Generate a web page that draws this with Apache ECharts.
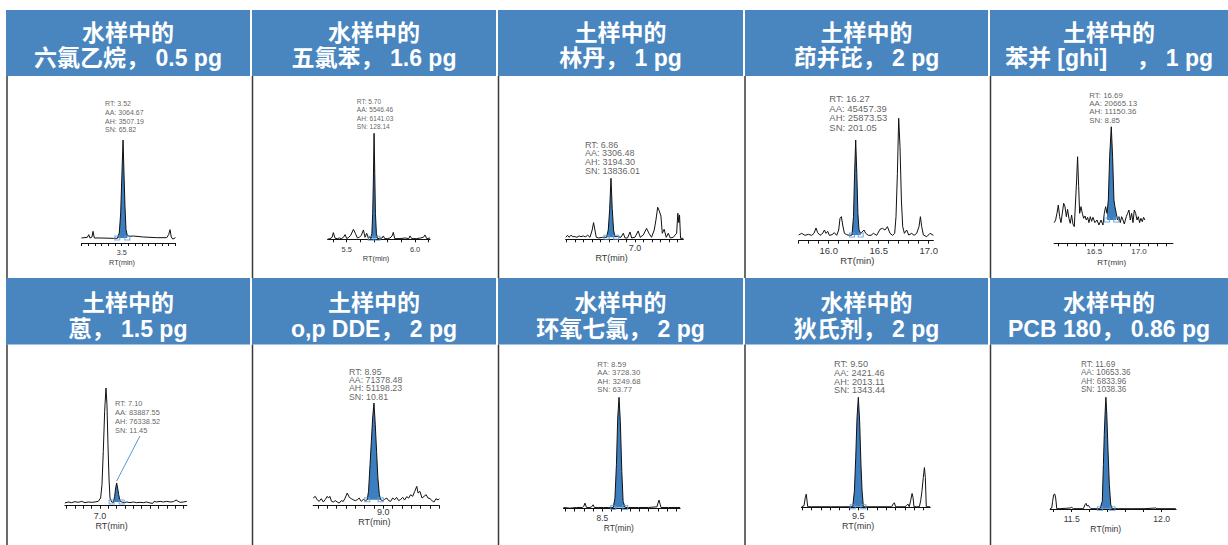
<!DOCTYPE html>
<html>
<head>
<meta charset="utf-8">
<script src="https://cdn.jsdelivr.net/npm/echarts@6/dist/echarts.min.js"></script>
<style>
html,body{margin:0;padding:0;background:#fff;}
#chart{width:1228px;height:545px;}
</style>
</head>
<body>
<div id="chart"></div>
<script>
// ---- Header text of each panel ----
const titleTop = ['水样中的','水样中的','土样中的','土样中的','土样中的','土样中的','土样中的','水样中的','水样中的','水样中的'];
const titleBottom = ['六氯乙烷， 0.5 pg','五氯苯， 1.6 pg','林丹， 1 pg','茚并芘， 2 pg','苯并 [ghi]　 ， 1 pg',
                     '蒽， 1.5 pg','o,p DDE， 2 pg','环氧七氯， 2 pg','狄氏剂， 2 pg','PCB 180， 0.86 pg'];

// ---- Peak report values (RT, area, height, S/N) ----
const rtText = ['3.52','5.70','6.86','16.27','16.69','7.10','8.95','8.59','9.50','11.69'];
const aaText = ['3064.67','5546.46','3306.48','45457.39','20665.13','83887.55','71378.48','3728.30','2421.46','10653.36'];
const ahText = ['3507.19','6141.03','3194.30','25873.53','11150.36','76338.52','51198.23','3249.68','2013.11','6833.96'];
const snText = ['65.82','128.14','13836.01','201.05','8.85','11.45','10.81','63.77','1343.44','1038.36'];

// ---- Chromatogram traces: [retention time (min), intensity] ----
const trace1 = [[2.9,0],[2.987,24],[3.008,119],[3.027,0],[3.057,36],[3.072,239],[3.091,0],[3.176,0],[3.375,-12],[3.434,-12],[3.464,179],[3.485,895],[3.504,2327],[3.52,3507.19],[3.534,2327],[3.549,1134],[3.564,298],[3.584,84],[3.624,60],[3.673,72],[3.822,36],[4.022,12],[4.172,12],[4.201,119],[4.221,298],[4.24,36],[4.261,-36],[4.291,-12],[4.3,24]];
const trace2 = [[5.36,-58],[5.378,-19],[5.393,58],[5.402,332],[5.415,0],[5.432,-19],[5.446,19],[5.461,-19],[5.476,58],[5.488,215],[5.5,-19],[5.515,58],[5.529,176],[5.549,527],[5.563,293],[5.578,19],[5.593,58],[5.607,176],[5.622,488],[5.634,58],[5.646,293],[5.659,-19],[5.668,98],[5.676,-19],[5.684,293],[5.69,1463],[5.695,3413],[5.7,6141.03],[5.705,3803],[5.71,1463],[5.717,293],[5.725,-19],[5.759,19],[5.768,137],[5.778,-19],[5.798,-19],[5.817,19],[5.832,137],[5.841,351],[5.851,-19],[5.89,-19],[5.927,19],[5.954,-19],[5.963,137],[5.976,-19],[6.012,-19],[6.041,19],[6.061,58],[6.073,195],[6.085,-19],[6.11,19]];
const trace3 = [[6.595,0],[6.606,108],[6.614,0],[6.626,108],[6.637,36],[6.649,36],[6.661,0],[6.673,72],[6.684,36],[6.698,72],[6.712,18],[6.723,126],[6.737,0],[6.75,397],[6.758,794],[6.766,397],[6.774,0],[6.789,-36],[6.809,0],[6.834,0],[6.844,397],[6.852,1480],[6.86,3194.3],[6.867,1570],[6.875,397],[6.883,36],[6.899,36],[6.918,0],[6.932,217],[6.942,-36],[6.957,-36],[6.971,289],[6.981,-36],[7.0,0],[7.019,343],[7.031,0],[7.049,126],[7.068,487],[7.082,217],[7.097,0],[7.113,397],[7.123,939],[7.133,1624],[7.142,1444],[7.152,1155],[7.16,217],[7.171,433],[7.183,0],[7.195,217],[7.207,-36],[7.224,0],[7.244,217],[7.251,1300],[7.257,794],[7.261,1210],[7.267,-54],[7.283,-54]];
const trace4 = [[15.7,0],[15.73,454],[15.763,-91],[15.797,182],[15.83,-91],[15.853,454],[15.873,1907],[15.89,636],[15.913,-91],[15.94,454],[15.957,1362],[15.973,454],[15.99,999],[16.007,-91],[16.033,91],[16.057,636],[16.08,-91],[16.1,1362],[16.113,4540],[16.127,4994],[16.14,2724],[16.157,454],[16.18,91],[16.207,-91],[16.233,0],[16.248,4994],[16.259,16798],[16.27,25873.53],[16.281,16798],[16.292,5902],[16.303,1362],[16.32,454],[16.353,1362],[16.37,454],[16.397,-91],[16.423,-91],[16.447,454],[16.48,-91],[16.513,1543],[16.537,1816],[16.563,1362],[16.587,2270],[16.613,454],[16.64,-91],[16.66,454],[16.673,4994],[16.687,16798],[16.7,31780],[16.713,24062],[16.727,9534],[16.74,2270],[16.757,454],[16.78,1362],[16.8,0],[16.83,454],[16.853,-91],[16.88,454],[16.903,2270],[16.917,4994],[16.93,2270],[16.947,0],[16.98,-454],[17.013,454],[17.047,-91]];
const trace5 = [[16.05,-318],[16.067,0],[16.082,796],[16.097,1791],[16.112,398],[16.127,-318],[16.142,796],[16.157,1990],[16.172,1592],[16.187,398],[16.201,1274],[16.216,199],[16.231,-398],[16.246,597],[16.261,-478],[16.276,-796],[16.291,2388],[16.302,4776],[16.313,7562],[16.325,3980],[16.336,796],[16.351,1592],[16.366,796],[16.381,199],[16.396,478],[16.41,0],[16.425,318],[16.44,-318],[16.455,398],[16.47,-159],[16.485,318],[16.507,-318],[16.53,0],[16.552,-597],[16.575,0],[16.597,-597],[16.612,796],[16.627,1592],[16.642,796],[16.657,2388],[16.672,7562],[16.69,11150.36],[16.705,7562],[16.72,2388],[16.731,1592],[16.746,796],[16.761,0],[16.776,398],[16.791,-318],[16.806,398],[16.821,0],[16.836,-478],[16.858,398],[16.873,796],[16.888,1194],[16.903,0],[16.918,796],[16.933,-318],[16.948,1194],[16.963,796],[16.978,0],[16.993,398],[17.007,-318],[17.022,199],[17.037,-199],[17.052,318],[17.067,0]];
const trace6 = [[6.79,-4018],[6.81,0],[6.83,-2678],[6.85,1339],[6.87,-1339],[6.89,2678],[6.91,-2678],[6.93,0],[6.95,-1339],[6.97,0],[6.99,2678],[7.004,16068],[7.012,69628],[7.02,203528],[7.028,364208],[7.036,458000],[7.042,390988],[7.048,230308],[7.054,96408],[7.06,16068],[7.07,0],[7.08,-1339],[7.088,22763],[7.094,56238],[7.1,76338.52],[7.106,56238],[7.112,29458],[7.12,5356],[7.13,0],[7.144,-2678],[7.16,0],[7.18,-2678],[7.2,0],[7.22,-2678],[7.24,-1339],[7.26,-2678],[7.28,0],[7.3,-4018],[7.316,-5356],[7.324,2678],[7.34,0],[7.36,2678],[7.38,0],[7.4,2678],[7.42,0],[7.44,1339],[7.456,8034],[7.468,2678],[7.48,-1339],[7.5,0],[7.52,2678]];
const trace7 = [[8.625,882],[8.636,1765],[8.646,0],[8.657,-882],[8.668,530],[8.679,-1236],[8.689,0],[8.7,1765],[8.707,882],[8.714,1765],[8.723,-882],[8.732,-1236],[8.743,-530],[8.754,-1236],[8.764,-1765],[8.775,-530],[8.786,-882],[8.796,882],[8.807,3530],[8.818,1236],[8.829,530],[8.839,0],[8.85,-530],[8.861,0],[8.871,882],[8.882,-882],[8.893,176],[8.904,-530],[8.914,0],[8.921,4413],[8.929,18532],[8.936,30888],[8.943,43243],[8.95,51198.23],[8.957,39713],[8.964,25593],[8.971,11473],[8.979,2648],[8.986,0],[8.996,-530],[9.007,176],[9.018,882],[9.029,-530],[9.039,-882],[9.05,882],[9.061,0],[9.071,1236],[9.082,-530],[9.093,176],[9.104,1236],[9.114,-176],[9.125,1589],[9.136,882],[9.146,2648],[9.157,1765],[9.168,4413],[9.179,7060],[9.186,3530],[9.196,4413],[9.207,882],[9.218,1765],[9.229,2648],[9.239,882],[9.25,530],[9.261,-530],[9.271,-1236],[9.282,530],[9.293,-176],[9.3,530]];
const trace8 = [[8.29,0],[8.325,-20],[8.361,0],[8.392,0],[8.399,30],[8.406,128],[8.414,0],[8.433,0],[8.442,20],[8.45,79],[8.457,0],[8.478,0],[8.505,0],[8.532,0],[8.559,0],[8.568,276],[8.576,1261],[8.583,2640],[8.59,3249.68],[8.597,2541],[8.605,1064],[8.612,177],[8.623,0],[8.641,0],[8.695,0],[8.749,0],[8.795,20],[8.8,118],[8.806,217],[8.812,98],[8.817,0],[8.857,0],[8.92,0]];
const trace9 = [[9.196,0],[9.209,18],[9.216,171],[9.221,232],[9.229,0],[9.25,0],[9.295,0],[9.357,0],[9.411,0],[9.47,0],[9.479,293],[9.486,903],[9.493,1635],[9.5,2013.11],[9.507,1574],[9.514,781],[9.52,293],[9.527,0],[9.563,0],[9.616,0],[9.679,0],[9.686,49],[9.693,73],[9.7,0],[9.723,0],[9.75,0],[9.759,24],[9.766,49],[9.773,0],[9.78,110],[9.788,244],[9.793,171],[9.798,0],[9.813,0],[9.827,0],[9.834,110],[9.841,293],[9.848,537],[9.854,720],[9.859,537],[9.864,0],[9.884,0]];
const trace10 = [[11.38,0],[11.389,41],[11.394,450],[11.4,860],[11.406,900],[11.411,655],[11.417,0],[11.435,0],[11.491,41],[11.5,82],[11.509,0],[11.565,0],[11.574,246],[11.58,327],[11.585,164],[11.593,205],[11.6,82],[11.607,0],[11.657,0],[11.67,450],[11.676,2702],[11.681,4544],[11.686,5977],[11.69,6833.96],[11.695,5773],[11.702,3521],[11.709,1474],[11.717,246],[11.726,0],[11.759,0],[11.833,0],[11.907,0],[11.967,41],[11.974,0],[12.019,0],[12.078,0]];

// ---- Integration window of the reported peak (start, end) ----
const peakWindows = [[3.434,3.584],[5.676,5.725],[6.834,6.89],[16.233,16.32],[16.642,16.746],
                     [7.07,7.13],[8.914,8.986],[8.559,8.623],[9.47,9.527],[11.657,11.726]];

// ---- Retention-time axis range, ticks and labelled ticks ----
const xMin = [2.9, 5.36, 6.595, 15.7, 16.05, 6.79, 8.625, 8.29, 9.195, 11.38];
const xMax = [4.3, 6.11, 7.283, 17.047, 17.38, 7.52, 9.3, 8.92, 9.885, 12.08];
const ticks1 = [2.9,3.0,3.1,3.2,3.3,3.4,3.5,3.6,3.7,3.8,3.9,4.0,4.1,4.2,4.3];
const ticks2 = [5.4,5.5,5.6,5.7,5.8,5.9,6.0,6.1];
const ticks3 = [6.6,6.65,6.7,6.75,6.8,6.85,6.9,6.95,7.0,7.05,7.1,7.15,7.2,7.25];
const ticks4 = [15.7,15.8,15.9,16.0,16.1,16.2,16.3,16.4,16.5,16.6,16.7,16.8,16.9,17.0];
const ticks5 = [16.1,16.2,16.3,16.4,16.5,16.6,16.7,16.8,16.9,17.0,17.1,17.2,17.3];
const ticks6 = [6.8,6.85,6.9,6.95,7.0,7.05,7.1,7.15,7.2,7.25,7.3,7.35,7.4,7.45,7.5];
const ticks7 = [8.65,8.7,8.75,8.8,8.85,8.9,8.95,9.0,9.05,9.1,9.15,9.2,9.25,9.3];
const ticks8 = [8.3,8.35,8.4,8.45,8.5,8.55,8.6,8.65,8.7,8.75,8.8,8.85,8.9];
const ticks9 = [9.2,9.25,9.3,9.35,9.4,9.45,9.5,9.55,9.6,9.65,9.7,9.75,9.8,9.85];
const ticks10 = [11.4,11.5,11.6,11.7,11.8,11.9,12.0];
const tickLabels = [[3.5],[5.5,6.0],[7.0],[16.0,16.5,17.0],[16.5,17.0],[7.0],[9.0],[8.5],[9.5],[11.5,12.0]];

const traces = [trace1,trace2,trace3,trace4,trace5,trace6,trace7,trace8,trace9,trace10];
const ticks = [ticks1,ticks2,ticks3,ticks4,ticks5,ticks6,ticks7,ticks8,ticks9,ticks10];

// ---- Page layout ----
const colLeft  = [6, 252, 498, 745, 990];
const colRight = [250, 496, 743, 988, 1228];
const sepX     = [7, 252.5, 498.5, 745, 990.5];
const rowTop   = [10, 278];
const rowHead  = [76, 344.5];
const rowEnd   = [278, 545];
const headLine1 = [33, 303];
const headLine2 = [58.3, 328.7];

// plot box and text placement of each panel
const panelLayout = [
  {left:81.5,  top:140,   width:93.8,  height:103,   yMin:-179,   axFs:7.2, lm:6.3, ng:16.3, ns:6.4,  fs:7,   lh:8.7, dx:-18,   gap:5.3},
  {left:327.6, top:133.3, width:102.5, height:106,   yMin:-58.5,  axFs:7.4, lm:7,   ng:16,   ns:2.8,  fs:6.6, lh:8.5, dx:-17.3, gap:2},
  {left:565.7, top:178.3, width:117.6, height:61,    yMin:-108,   axFs:9,   lm:4,   ng:14,   ns:12.8, fs:9,   lh:8.7, dx:-26,   gap:2.6},
  {left:798.7, top:118.3, width:134.7, height:122.4, yMin:-1550,  axFs:9.5, lm:4.3, ng:14.3, ns:8.7,  fs:9.5, lh:9.5, dx:-26.4, gap:7.3},
  {left:1054.1,top:126.7, width:118.8, height:116.6, yMin:-2786,  axFs:8,   lm:4.4, ng:15,   ns:1.8,  fs:7.9, lh:8.3, dx:-22,   gap:1.85},
  {left:64.9,  top:388,   width:121.9, height:117.7, yMin:-14866, axFs:9,   lm:6.1, ng:16.1, ns:14.2, fs:7.4, lh:9,   dx:-1.7,  gap:47.8},
  {left:313.2, top:403,   width:126.2, height:102.7, yMin:-3177,  axFs:9,   lm:2.1, ng:12.1, ns:2,    fs:8.8, lh:8.3, dx:-25,   gap:1.85},
  {left:563.5, top:397.3, width:116.6, height:111.2, yMin:-30,    axFs:8.4, lm:5.1, ng:15.1, ns:3,    fs:7.8, lh:8.3, dx:-21.7, gap:3.15},
  {left:801.4, top:397.3, width:128.8, height:110,   yMin:-10,    axFs:9,   lm:4.65,ng:14.25,ns:7.7,  fs:9.2, lh:8.7, dx:-24.3, gap:2},
  {left:1050.1,top:397.3, width:126,   height:111.7, yMin:-20,    axFs:8.6, lm:5.3, ng:15.3, ns:7.3,  fs:8.2, lh:8.5, dx:-25,   gap:3}
];

const HEAD_BLUE = '#4986bf';
const PEAK_BLUE = '#3d7ebf';
const MARK_BLUE = '#5b97d3';
const TEXT_GREY = '#383838';
const SANS = "'Liberation Sans', Arial, sans-serif";
const HEAD_FONT = "'Liberation Sans Narrow', 'Liberation Sans', 'Noto Sans CJK SC', sans-serif";

const grids = [], xAxes = [], yAxes = [], series = [], graphics = [];

panelLayout.forEach((p, i) => {
  const tr = traces[i];
  const w = peakWindows[i];
  const yTop = Math.max(...tr.map(d => d[1]));
  const rt = Number(rtText[i]), ah = Number(ahText[i]);

  grids.push({left:p.left, top:p.top, width:p.width, height:p.height, containLabel:false});
  xAxes.push({
    type:'value', gridIndex:i, min:xMin[i], max:xMax[i],
    axisLine:{show:true, onZero:false, lineStyle:{color:'#111', width:1}},
    axisTick:{show:true, inside:false, length:3, customValues:ticks[i], lineStyle:{color:'#111', width:1}},
    axisLabel:{show:true, customValues:tickLabels[i], formatter:v => v.toFixed(1),
               fontSize:p.axFs, color:TEXT_GREY, fontFamily:SANS, margin:p.lm},
    splitLine:{show:false},
    name:'RT(min)', nameLocation:'middle', nameGap:p.ng, nameMoveOverlap:false,
    nameTextStyle:{fontSize:p.axFs, color:TEXT_GREY, fontFamily:SANS, padding:[0, p.ns * 2, 0, 0]}
  });
  yAxes.push({type:'value', gridIndex:i, min:p.yMin, max:yTop, show:false, splitLine:{show:false}});

  // shaded area of the integrated peak
  series.push({
    type:'line', xAxisIndex:i, yAxisIndex:i, silent:true, z:2,
    data: tr.filter(d => d[0] >= w[0] - 1e-9 && d[0] <= w[1] + 1e-9),
    showSymbol:false, lineStyle:{width:0}, areaStyle:{color:PEAK_BLUE, opacity:1, origin:'auto'}
  });
  // chromatogram trace
  series.push({
    type:'line', xAxisIndex:i, yAxisIndex:i, silent:true, z:3,
    data:tr, showSymbol:false, lineStyle:{color:'#111', width:1}
  });
  // peak start / end markers on the baseline
  series.push({
    type:'scatter', xAxisIndex:i, yAxisIndex:i, silent:true, z:4,
    data:[[w[0],0],[w[1],0]], symbol:'rect', symbolSize:[5,4],
    itemStyle:{color:'rgba(255,255,255,0)', borderColor:MARK_BLUE, borderWidth:1}
  });
  // peak report text at the apex
  series.push({
    type:'scatter', xAxisIndex:i, yAxisIndex:i, silent:true, z:5,
    data:[[rt, ah]], symbolSize:1, itemStyle:{color:'rgba(0,0,0,0)'},
    label:{show:true, position:'top', distance:p.gap, align:'left', verticalAlign:'bottom',
           offset:[p.dx, 0], fontSize:p.fs, lineHeight:p.lh, color:TEXT_GREY, fontFamily:SANS,
           formatter:() => 'RT: ' + rtText[i] + '\nAA: ' + aaText[i] + '\nAH: ' + ahText[i] + '\nSN: ' + snText[i]}
  });

  // header cell and column rule
  const col = i % 5, row = Math.floor(i / 5);
  graphics.push({type:'rect', silent:true, z:0,
    shape:{x:colLeft[col], y:rowTop[row], width:colRight[col] - colLeft[col], height:rowHead[row] - rowTop[row]},
    style:{fill:HEAD_BLUE}});
  const cx = (colLeft[col] + colRight[col]) / 2;
  graphics.push({type:'text', silent:true, z:1, x:cx, y:headLine1[row],
    style:{text:titleTop[i], fill:'#fff', fontSize:23, lineHeight:24, fontWeight:'bold', fontFamily:HEAD_FONT, align:'center', verticalAlign:'middle'}});
  graphics.push({type:'text', silent:true, z:1, x:cx, y:headLine2[row],
    style:{text:titleBottom[i], fill:'#fff', fontSize:23, lineHeight:24, fontWeight:'bold', fontFamily:HEAD_FONT, align:'center', verticalAlign:'middle'}});
  graphics.push({type:'line', silent:true, z:1,
    shape:{x1:sepX[col], y1:rowHead[row], x2:sepX[col], y2:rowEnd[row]},
    style:{stroke:'#3a3a3a', lineWidth:1.5}});
});

const chart = echarts.init(document.getElementById('chart'), null, {renderer:'svg', width:1228, height:545});
chart.setOption({
  animation:false,
  backgroundColor:'#fff',
  grid:grids, xAxis:xAxes, yAxis:yAxes, series:series, graphic:graphics
});

// leader line from the report text down to the small anthracene peak (panel 6)
const apex6 = chart.convertToPixel({gridIndex:5}, [Number(rtText[5]), Number(ahText[5])]);
chart.setOption({
  graphic: graphics.concat([{
    type:'line', silent:true, z:6,
    shape:{x1:apex6[0], y1:apex6[1] - 2, x2:apex6[0] + 23.3, y2:apex6[1] - 47},
    style:{stroke:MARK_BLUE, lineWidth:1}
  }])
});
</script>
</body>
</html>
